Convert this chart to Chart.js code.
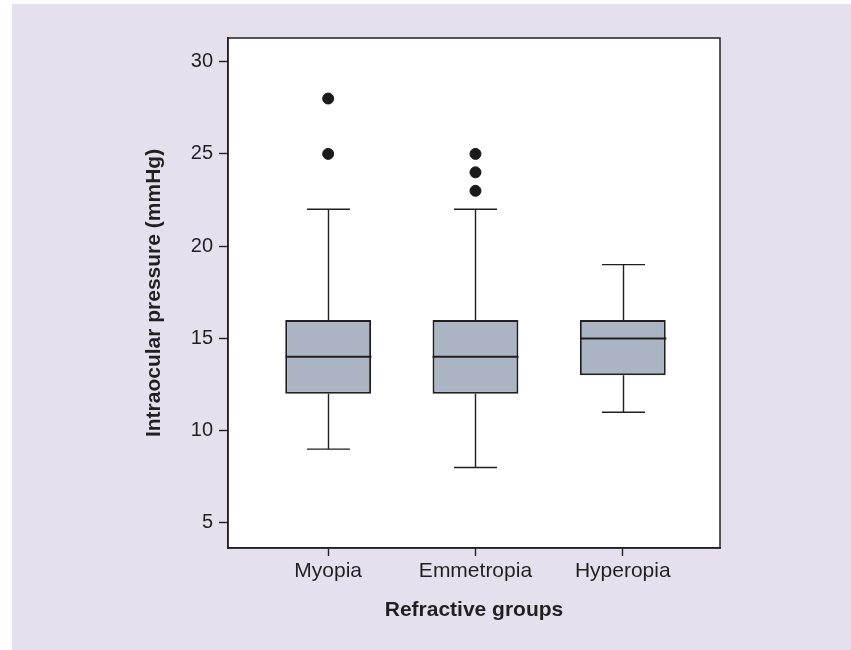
<!DOCTYPE html>
<html>
<head>
<meta charset="utf-8">
<script src="https://cdn.jsdelivr.net/npm/chart.js@4/dist/chart.umd.min.js"></script>
<style>
  body { margin: 0; background: #ffffff; }
  #wrap { width: 851px; height: 650px; }
</style>
</head>
<body>
<div id="wrap"><canvas id="boxChart" width="851" height="650"></canvas></div>
<script>
// Refractive groups and box plot summary (IOP, mmHg)
const groups = ['Myopia', 'Emmetropia', 'Hyperopia'];
const groupPos = [1, 2, 3];
const whiskerLow = [9, 8, 11];
const q1 = [12, 12, 13];
const median = [14, 14, 15];
const q3 = [16, 16, 16];
const whiskerHigh = [22, 22, 19];
const outliers = [[25, 28], [23, 24, 25], []];
const yTicks = [5, 10, 15, 20, 25, 30];

const ink = '#231f20';
const fontFamily = '"Liberation Sans", Arial, Helvetica, sans-serif';

// Background: lavender panel + white plotting area + full frame
const panelPlugin = {
    id: 'panel',
    beforeDraw(chart) {
        const { ctx, chartArea: a } = chart;
        ctx.save();
        ctx.fillStyle = '#ffffff';
        ctx.fillRect(0, 0, chart.width, chart.height);
        ctx.fillStyle = '#e6e0ee';
        ctx.fillRect(12, 4, chart.width - 12, chart.height - 4);
        ctx.fillStyle = '#ffffff';
        ctx.fillRect(a.left, a.top, a.right - a.left, a.bottom - a.top);
        ctx.restore();
    },
    afterDraw(chart) {
        const { ctx, chartArea: a } = chart;
        ctx.save();
        ctx.strokeStyle = ink;
        ctx.lineWidth = 1.5;
        ctx.strokeRect(a.left, a.top, a.right - a.left, a.bottom - a.top);
        ctx.restore();
    }
};

// Whiskers, caps and medians, placed with the chart's own scales
const whiskerPlugin = {
    id: 'whiskers',
    afterDatasetsDraw(chart) {
        const { ctx, scales: { x, y } } = chart;
        const boxes = chart.getDatasetMeta(0).data;
        ctx.save();
        ctx.strokeStyle = ink;
        groupPos.forEach((pos, i) => {
            const cx = Math.round(x.getPixelForValue(pos)) + 0.5;
            const half = boxes[i].width / 2;
            const cap = half / 2;
            ctx.lineWidth = 1.4;
            ctx.beginPath();
            // upper whisker
            ctx.moveTo(cx, y.getPixelForValue(q3[i]));
            ctx.lineTo(cx, y.getPixelForValue(whiskerHigh[i]));
            ctx.moveTo(cx - cap, y.getPixelForValue(whiskerHigh[i]));
            ctx.lineTo(cx + cap, y.getPixelForValue(whiskerHigh[i]));
            // lower whisker
            ctx.moveTo(cx, y.getPixelForValue(q1[i]));
            ctx.lineTo(cx, y.getPixelForValue(whiskerLow[i]));
            ctx.moveTo(cx - cap, y.getPixelForValue(whiskerLow[i]));
            ctx.lineTo(cx + cap, y.getPixelForValue(whiskerLow[i]));
            ctx.stroke();
            // median
            ctx.lineWidth = 2;
            ctx.beginPath();
            ctx.moveTo(cx - half, y.getPixelForValue(median[i]));
            ctx.lineTo(cx + half, y.getPixelForValue(median[i]));
            ctx.stroke();
        });
        ctx.restore();
    }
};

const boxData = groupPos.map((pos, i) => ({ x: pos, y: [q1[i], q3[i]] }));
const outlierData = [];
outliers.forEach((list, i) => list.forEach(v => outlierData.push({ x: groupPos[i], y: v })));

const ctx = document.getElementById('boxChart').getContext('2d');
new Chart(ctx, {
    type: 'bar',
    data: {
        datasets: [{
            label: 'IQR',
            data: boxData,
            backgroundColor: '#aab4c3',
            borderColor: ink,
            borderWidth: 2,
            borderSkipped: false,
            categoryPercentage: 1,
            barPercentage: 0.583
        }, {
            type: 'scatter',
            label: 'Outliers',
            data: outlierData,
            backgroundColor: '#1a1a1a',
            borderColor: '#1a1a1a',
            pointRadius: 5.5,
            pointHoverRadius: 5.5
        }]
    },
    options: {
        responsive: false,
        animation: false,
        events: [],
        layout: { padding: { left: 140, top: 38, right: 131, bottom: 24 } },
        plugins: {
            legend: { display: false },
            tooltip: { enabled: false }
        },
        scales: {
            x: {
                type: 'linear',
                min: 0.32,
                max: 3.66,
                offset: false,
                afterBuildTicks: (scale) => {
                    scale.ticks = groupPos.map(v => ({ value: v }));
                },
                afterFit: (scale) => { scale.height = 78; },
                ticks: {
                    color: ink,
                    padding: 3,
                    maxRotation: 0,
                    autoSkip: false,
                    font: { family: fontFamily, size: 21 },
                    callback: (value) => groups[groupPos.indexOf(value)]
                },
                grid: {
                    offset: false,
                    drawOnChartArea: false,
                    drawTicks: true,
                    tickLength: 8,
                    tickColor: ink,
                    tickWidth: 1.4
                },
                border: { color: ink, width: 1.5 },
                title: {
                    display: true,
                    text: 'Refractive groups',
                    color: ink,
                    padding: { top: 0, bottom: 3.4 },
                    font: { family: fontFamily, size: 21, weight: 'bold' }
                }
            },
            y: {
                min: 3.64,
                max: 31.28,
                afterBuildTicks: (scale) => {
                    scale.ticks = yTicks.map(v => ({ value: v }));
                },
                afterFit: (scale) => { scale.width = 88; },
                ticks: {
                    color: ink,
                    padding: 6,
                    font: { family: fontFamily, size: 20 }
                },
                grid: {
                    drawOnChartArea: false,
                    drawTicks: true,
                    tickLength: 9,
                    tickColor: ink,
                    tickWidth: 1.4
                },
                border: { color: ink, width: 1.5 },
                title: {
                    display: true,
                    text: 'Intraocular pressure (mmHg)',
                    color: ink,
                    padding: { top: 2, bottom: 0 },
                    font: { family: fontFamily, size: 21, weight: 'bold' }
                }
            }
        }
    },
    plugins: [panelPlugin, whiskerPlugin]
});
</script>
</body>
</html>
